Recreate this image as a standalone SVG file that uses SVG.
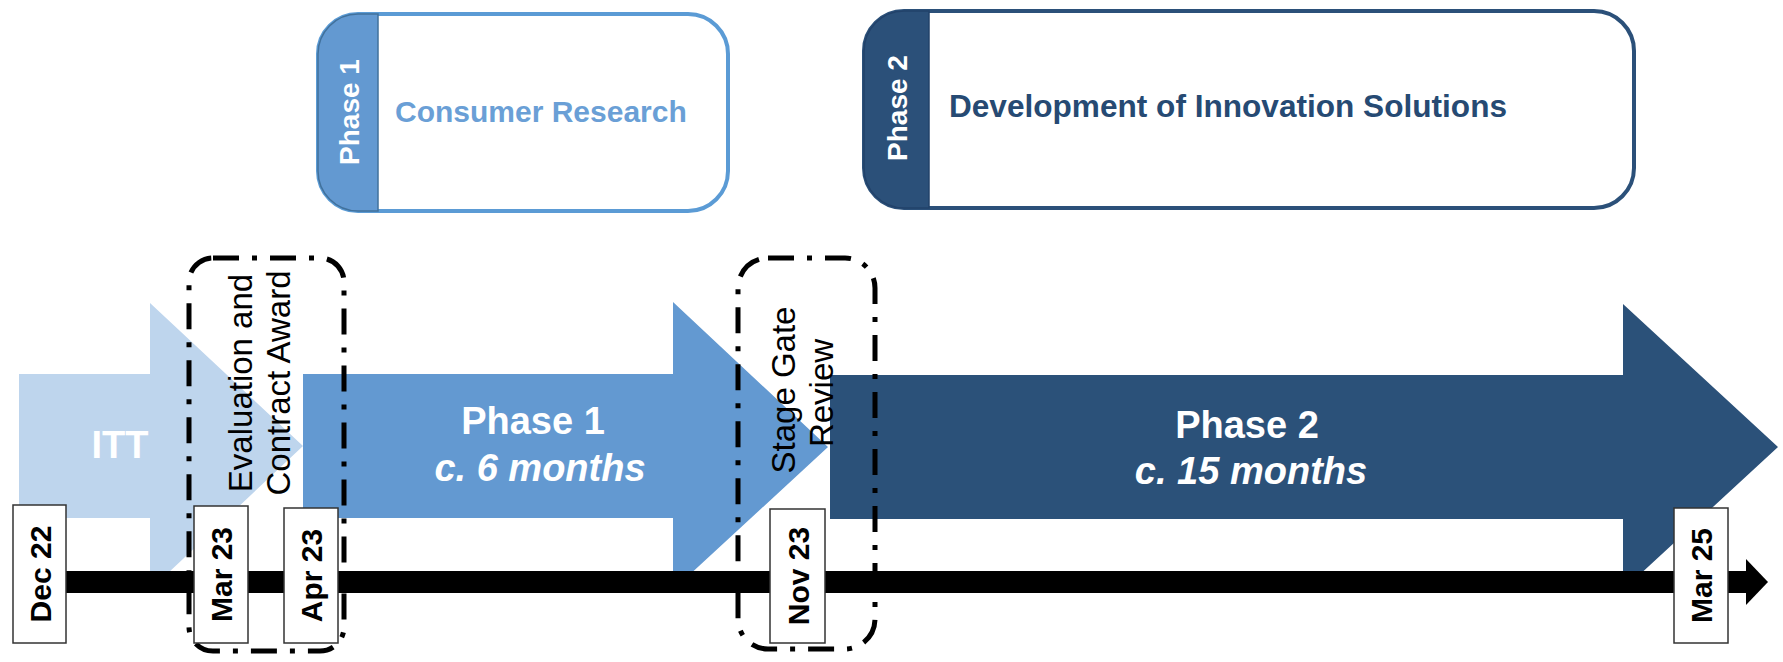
<svg xmlns="http://www.w3.org/2000/svg" width="1783" height="662" viewBox="0 0 1783 662">
<style>
.t{font-family:"Liberation Sans",Arial,sans-serif}
.w{fill:#ffffff;font-weight:bold}
.date{fill:#ffffff;stroke:#333333;stroke-width:1.5}
.dt{font-family:"Liberation Sans",Arial,sans-serif;font-size:30px;font-weight:bold;fill:#000;text-anchor:middle}
.lbl{font-family:"Liberation Sans",Arial,sans-serif;font-size:33px;fill:#000;text-anchor:middle}
.gate{fill:none;stroke:#000;stroke-width:5;stroke-dasharray:26 13 5 13}
.big{font-family:"Liberation Sans",Arial,sans-serif;font-size:38px;font-weight:bold;fill:#ffffff;text-anchor:middle}
</style>
<rect width="1783" height="662" fill="#ffffff"/>

<g id="phase1-box">
  <rect x="318" y="14" width="410" height="197" rx="40" fill="#ffffff" stroke="#5b9bd5" stroke-width="4"/>
  <path d="M378,14 H358 A40,40 0 0 0 318,54 V171 A40,40 0 0 0 358,211 H378 Z" fill="#6399d1" stroke="#41719c" stroke-width="1.5"/>
  <text class="t w" x="349" y="122" font-size="28" text-anchor="middle" transform="rotate(-90 349 112)">Phase 1</text>
  <text class="t" x="395" y="122" font-size="30" font-weight="bold" fill="#6a9fd6">Consumer Research</text>
</g>

<g id="phase2-box">
  <rect x="864" y="11" width="770" height="197" rx="40" fill="#ffffff" stroke="#2b5079" stroke-width="4"/>
  <path d="M929,11 H904 A40,40 0 0 0 864,51 V168 A40,40 0 0 0 904,208 H929 Z" fill="#2b5079" stroke="#22426a" stroke-width="1.5"/>
  <text class="t w" x="897" y="118" font-size="28" text-anchor="middle" transform="rotate(-90 897 108)">Phase 2</text>
  <text class="t" x="949" y="117" font-size="31" font-weight="bold" fill="#264a73" textLength="558" lengthAdjust="spacingAndGlyphs">Development of Innovation Solutions</text>
</g>

<g id="itt-arrow">
  <polygon points="19,374 150,374 150,303 303,446 150,590 150,518 19,518" fill="#bed5ed"/>
  <text class="big" x="120" y="458" fill="#f7f9fc">ITT</text>
</g>

<g id="phase1-arrow">
  <polygon points="303,374 673,374 673,302 828,447 673,590 673,518 303,518" fill="#6399d1"/>
  <text class="big" x="533" y="434">Phase 1</text>
  <text class="big" x="540" y="481" font-style="italic">c. 6 months</text>
</g>

<g id="phase2-arrow">
  <polygon points="830,375 1623,375 1623,304 1778,447 1623,590 1623,519 830,519" fill="#2b5179"/>
  <text class="big" x="1247" y="438">Phase 2</text>
  <text class="big" x="1251" y="484" font-style="italic">c. 15 months</text>
</g>

<g id="connectors">
  <rect x="40" y="571" width="1707" height="22" fill="#000"/>
  <polygon points="1746,559 1768,582 1746,605" fill="#000"/>
</g>

<g id="evaluation-gate">
  <rect class="gate" x="189" y="258" width="155" height="393" rx="24"/>
  <text class="lbl" x="252" y="383" transform="rotate(-90 252 383)">Evaluation and</text>
  <text class="lbl" x="290" y="383" transform="rotate(-90 290 383)">Contract Award</text>
</g>

<g id="stage-gate">
  <rect class="gate" x="738" y="258" width="137" height="391" rx="30"/>
  <text class="lbl" x="795" y="390" transform="rotate(-90 795 390)">Stage Gate</text>
  <text class="lbl" x="833" y="393" transform="rotate(-90 833 393)">Review</text>
</g>

<g id="date-dec22">
  <rect class="date" x="13" y="505" width="53" height="138"/>
  <text class="dt" x="39.5" y="585" transform="rotate(-90 39.5 574)">Dec 22</text>
</g>
<g id="date-mar23">
  <rect class="date" x="194" y="506" width="54" height="137"/>
  <text class="dt" x="221" y="585.5" transform="rotate(-90 221 574.5)">Mar 23</text>
</g>
<g id="date-apr23">
  <rect class="date" x="284" y="508" width="54" height="135"/>
  <text class="dt" x="311" y="586.5" transform="rotate(-90 311 575.5)">Apr 23</text>
</g>
<g id="date-nov23">
  <rect class="date" x="770" y="509" width="55" height="134"/>
  <text class="dt" x="797.5" y="587" transform="rotate(-90 797.5 576)">Nov 23</text>
</g>
<g id="date-mar25">
  <rect class="date" x="1674" y="508" width="54" height="135"/>
  <text class="dt" x="1701" y="586.5" transform="rotate(-90 1701 575.5)">Mar 25</text>
</g>
</svg>
